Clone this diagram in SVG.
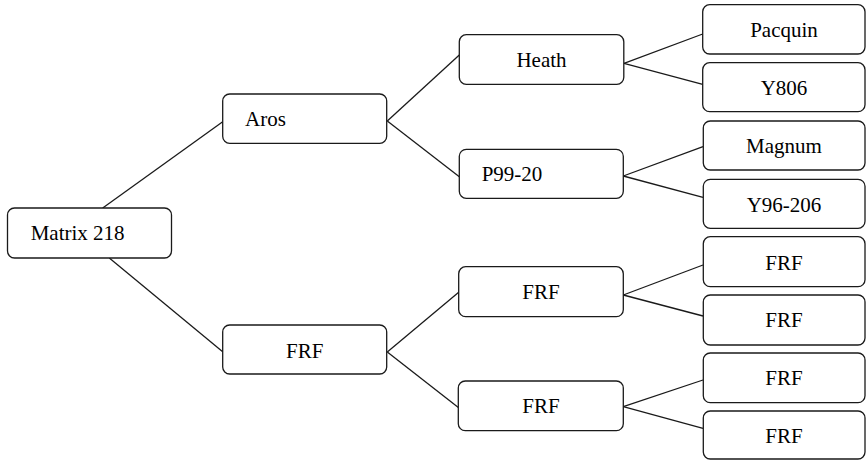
<svg xmlns="http://www.w3.org/2000/svg" width="866" height="460" viewBox="0 0 866 460" font-family="Liberation Serif, serif">
<rect width="866" height="460" fill="#fff"/>
<g id="connectors" stroke="#1a1a1a" stroke-width="1.3" fill="none">
<line x1="102.7" y1="208" x2="222.7" y2="121.7"/>
<line x1="109.3" y1="258" x2="222.7" y2="351.7"/>
<line x1="387.3" y1="121" x2="459.3" y2="55"/>
<line x1="387.3" y1="121" x2="459.3" y2="176.7"/>
<line x1="387.3" y1="352" x2="459" y2="292"/>
<line x1="387.3" y1="352" x2="459" y2="408"/>
<line x1="624" y1="63.3" x2="702.7" y2="34"/>
<line x1="624" y1="63.3" x2="702.7" y2="84.3"/>
<line x1="623.3" y1="176" x2="703" y2="146.7"/>
<line x1="623.3" y1="176" x2="703" y2="197.3"/>
<line x1="623.3" y1="295" x2="703" y2="265"/>
<line x1="623.3" y1="295" x2="703" y2="316"/>
<line x1="623.3" y1="406.7" x2="703" y2="380"/>
<line x1="623.3" y1="406.7" x2="703" y2="428.3"/>
</g>
<g id="n-matrix"><rect x="7.5" y="208" width="164" height="50" rx="7" fill="#fff" stroke="#1a1a1a" stroke-width="1.3"/></g>
<g id="n-aros"><rect x="222.7" y="94" width="164" height="49.3" rx="7" fill="#fff" stroke="#1a1a1a" stroke-width="1.3"/></g>
<g id="n-frf1"><rect x="222.7" y="325" width="164" height="49" rx="7" fill="#fff" stroke="#1a1a1a" stroke-width="1.3"/></g>
<g id="n-heath"><rect x="459.3" y="34.7" width="164.5" height="49.6" rx="7" fill="#fff" stroke="#1a1a1a" stroke-width="1.3"/></g>
<g id="n-p99"><rect x="459.3" y="149.3" width="164" height="49" rx="7" fill="#fff" stroke="#1a1a1a" stroke-width="1.3"/></g>
<g id="n-frf2a"><rect x="458.7" y="266.7" width="164.6" height="50" rx="7" fill="#fff" stroke="#1a1a1a" stroke-width="1.3"/></g>
<g id="n-frf2b"><rect x="458.3" y="381" width="165" height="49.7" rx="7" fill="#fff" stroke="#1a1a1a" stroke-width="1.3"/></g>
<g id="n-pacquin"><rect x="702.7" y="4.7" width="162.3" height="49.3" rx="7" fill="#fff" stroke="#1a1a1a" stroke-width="1.3"/></g>
<g id="n-y806"><rect x="702.7" y="62.7" width="162.3" height="49" rx="7" fill="#fff" stroke="#1a1a1a" stroke-width="1.3"/></g>
<g id="n-magnum"><rect x="703.3" y="121" width="161.7" height="49" rx="7" fill="#fff" stroke="#1a1a1a" stroke-width="1.3"/></g>
<g id="n-y96"><rect x="703.3" y="179.3" width="161.7" height="49" rx="7" fill="#fff" stroke="#1a1a1a" stroke-width="1.3"/></g>
<g id="n-frf3a"><rect x="703.3" y="236.7" width="161.7" height="50" rx="7" fill="#fff" stroke="#1a1a1a" stroke-width="1.3"/></g>
<g id="n-frf3b"><rect x="703.3" y="295" width="161.7" height="50" rx="7" fill="#fff" stroke="#1a1a1a" stroke-width="1.3"/></g>
<g id="n-frf3c"><rect x="703.3" y="353" width="161.7" height="49.7" rx="7" fill="#fff" stroke="#1a1a1a" stroke-width="1.3"/></g>
<g id="n-frf3d"><rect x="703.3" y="411" width="161.7" height="48" rx="7" fill="#fff" stroke="#1a1a1a" stroke-width="1.3"/></g>
<text x="30.7" y="240" font-family="Liberation Serif" font-size="21">Matrix 218</text>
<text x="245" y="126" font-family="Liberation Serif" font-size="21">Aros</text>
<text x="304.7" y="358" text-anchor="middle" font-family="Liberation Serif" font-size="21">FRF</text>
<text x="541.5" y="66.7" text-anchor="middle" font-family="Liberation Serif" font-size="21">Heath</text>
<text x="481.7" y="181" font-family="Liberation Serif" font-size="21">P99-20</text>
<text x="541" y="299.3" text-anchor="middle" font-family="Liberation Serif" font-size="21">FRF</text>
<text x="541" y="413" text-anchor="middle" font-family="Liberation Serif" font-size="21">FRF</text>
<text x="784" y="36.7" text-anchor="middle" font-family="Liberation Serif" font-size="21">Pacquin</text>
<text x="784" y="95" text-anchor="middle" font-family="Liberation Serif" font-size="21">Y806</text>
<text x="784" y="153.3" text-anchor="middle" font-family="Liberation Serif" font-size="21">Magnum</text>
<text x="784" y="211.7" text-anchor="middle" font-family="Liberation Serif" font-size="21">Y96-206</text>
<text x="784" y="270" text-anchor="middle" font-family="Liberation Serif" font-size="21">FRF</text>
<text x="784" y="326.7" text-anchor="middle" font-family="Liberation Serif" font-size="21">FRF</text>
<text x="784" y="385" text-anchor="middle" font-family="Liberation Serif" font-size="21">FRF</text>
<text x="784" y="442.7" text-anchor="middle" font-family="Liberation Serif" font-size="21">FRF</text>
</svg>
